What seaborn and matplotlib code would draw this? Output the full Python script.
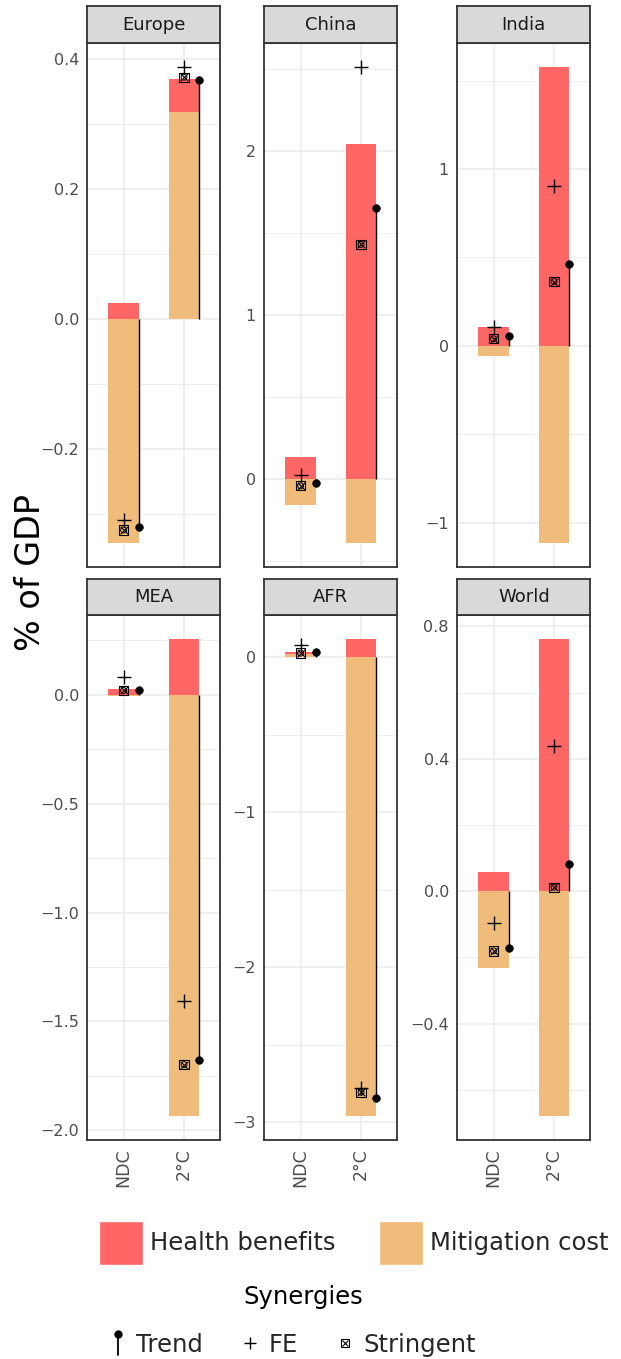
import numpy as np
import matplotlib.pyplot as plt
import seaborn as sns
from matplotlib.lines import Line2D
from matplotlib.patches import Patch
from matplotlib.legend_handler import HandlerBase, HandlerTuple
from matplotlib.ticker import MultipleLocator, FuncFormatter

# ------------------------------------------------------------------
# data (% of GDP), one value per region
# ------------------------------------------------------------------
regions = ['Europe', 'China', 'India', 'MEA', 'AFR', 'World']
scenarios = ['NDC', '2°C']

mitigation_ndc = [-0.345, -0.158, -0.055, -0.007, 0.020, -0.231]
mitigation_2c = [0.319, -0.389, -1.115, -1.935, -2.960, -0.679]
health_ndc = [0.025, 0.133, 0.109, 0.028, 0.016, 0.059]
health_2c = [0.050, 2.044, 1.579, 0.257, 0.120, 0.762]

trend_ndc = [-0.320, -0.025, 0.054, 0.021, 0.036, -0.172]
trend_2c = [0.367, 1.655, 0.464, -1.678, -2.840, 0.083]
fe_ndc = [-0.310, 0.028, 0.105, 0.080, 0.082, -0.096]
fe_2c = [0.388, 2.514, 0.905, -1.406, -2.780, 0.440]
stringent_ndc = [-0.325, -0.041, 0.040, 0.020, 0.028, -0.180]
stringent_2c = [0.372, 1.431, 0.364, -1.698, -2.806, 0.012]

# axis tick steps / label formats per facet
tick_step = [0.2, 1, 1, 0.5, 1, 0.4]
tick_fmt = ['{:.1f}', '{:.0f}', '{:.0f}', '{:.1f}', '{:.0f}', '{:.1f}']

RED = '#FF6666'
TAN = '#F0BC7C'
GRID = '#EBEBEB'
BORDER = '#333333'

# ------------------------------------------------------------------
# style
# ------------------------------------------------------------------
sns.set_theme(style='white')
plt.rcParams['font.family'] = ['DejaVu Sans']
plt.rcParams['axes.unicode_minus'] = True

W, H = 621, 1359
fig = plt.figure(figsize=(W / 100, H / 100), dpi=100)

col_left = [87.3, 264.3, 457.3]
panel_w = 133.0
row_strip_top = [6.0, 579.0]
row_top = [43.0, 615.0]
row_bottom = [566.7, 1140.0]

x_pos = np.arange(len(scenarios))


def fmt_factory(fmt):
    def f(v, pos):
        s = fmt.format(v + 0.0)
        if s.startswith('-') and float(s) == 0:
            s = s[1:]
        return s.replace('-', '\u2212')
    return FuncFormatter(f)


for i, region in enumerate(regions):
    r, c = divmod(i, 3)
    left = col_left[c] / W
    ax = fig.add_axes([left, 1 - row_bottom[r] / H, panel_w / W,
                       (row_bottom[r] - row_top[r]) / H])
    strip = fig.add_axes([left, 1 - row_top[r] / H, panel_w / W,
                          (row_top[r] - row_strip_top[r]) / H])

    mit = np.array([mitigation_ndc[i], mitigation_2c[i]])
    hb = np.array([health_ndc[i], health_2c[i]])
    # positive values stack: mitigation at the bottom, health on top
    hb_top = hb + np.clip(mit, 0, None)

    sns.barplot(x=x_pos, y=hb_top, native_scale=True, width=0.5, color=RED,
                saturation=1, errorbar=None, linewidth=0, ax=ax)
    sns.barplot(x=x_pos, y=mit, native_scale=True, width=0.5, color=TAN,
                saturation=1, errorbar=None, linewidth=0, ax=ax)

    trend = np.array([trend_ndc[i], trend_2c[i]])
    fe = np.array([fe_ndc[i], fe_2c[i]])
    strg = np.array([stringent_ndc[i], stringent_2c[i]])

    # Trend: lollipop on the right edge of the bar
    ax.vlines(x_pos + 0.25, 0, trend, color='black', lw=1.0, zorder=3)
    sns.scatterplot(x=x_pos + 0.25, y=trend, s=30, color='black',
                    edgecolor='black', linewidth=0.5, zorder=4, ax=ax)
    # FE
    sns.scatterplot(x=x_pos, y=fe, marker='+', s=110, color='black',
                    linewidth=1.0, zorder=4, ax=ax)
    # Stringent
    sns.scatterplot(x=x_pos, y=strg, marker='s', s=45, facecolor='none',
                    edgecolor='black', linewidth=0.8, zorder=4, ax=ax)
    sns.scatterplot(x=x_pos, y=strg, marker='x', s=30, color='black',
                    linewidth=0.8, zorder=4, ax=ax)
    sns.scatterplot(x=x_pos, y=strg, marker='o', s=18, facecolor='none',
                    edgecolor='black', linewidth=0.7, zorder=4, ax=ax)

    ax.set_xlim(-0.6, 1.6)
    ax.margins(y=0.05)
    ax.autoscale(axis='y')
    ax.set_xlabel('')
    ax.set_ylabel('')
    ax.set_axisbelow(True)

    ax.yaxis.set_major_locator(MultipleLocator(tick_step[i]))
    ax.yaxis.set_minor_locator(MultipleLocator(tick_step[i] / 2))
    ax.yaxis.set_major_formatter(fmt_factory(tick_fmt[i]))
    ax.set_xticks(x_pos)
    if r == 1:
        ax.set_xticklabels(scenarios, rotation=90)
        ax.tick_params(axis='x', length=4, width=1.1, color=BORDER,
                       labelsize=12.5, labelcolor='#4D4D4D', pad=2)
    else:
        ax.set_xticklabels([])
        ax.tick_params(axis='x', length=0)
    ax.tick_params(axis='y', which='major', length=4, width=1.1,
                   color=BORDER, labelsize=11.5, labelcolor='#4D4D4D', pad=2)
    ax.tick_params(axis='y', which='minor', length=0)

    ax.grid(which='major', axis='both', color=GRID, lw=1.1)
    ax.grid(which='minor', axis='y', color=GRID, lw=0.6)
    for sp in ax.spines.values():
        sp.set_color(BORDER)
        sp.set_linewidth(1.3)
        sp.set_visible(True)

    strip.set_facecolor('#D9D9D9')
    strip.set_xticks([])
    strip.set_yticks([])
    for sp in strip.spines.values():
        sp.set_color(BORDER)
        sp.set_linewidth(1.3)
        sp.set_visible(True)
    strip.text(0.5, 0.5, region, ha='center', va='center', fontsize=13,
               color='#1A1A1A', transform=strip.transAxes)

# y axis title
fig.text(30 / W, 1 - 573 / H, '% of GDP', rotation=90, ha='center',
         va='center', fontsize=24, color='black')


# ------------------------------------------------------------------
# legends
# ------------------------------------------------------------------
class PinHandler(HandlerBase):
    def create_artists(self, legend, orig_handle, xdescent, ydescent,
                       width, height, fontsize, trans):
        cx = width / 2 - xdescent
        y0 = -ydescent - 0.2 * height
        y1 = height - ydescent + 0.05 * height
        line = Line2D([cx, cx], [y0, y1], color='black', lw=1.3,
                      transform=trans)
        dot = Line2D([cx], [y1], marker='o', ms=5, color='black',
                     linestyle='none', transform=trans)
        return [line, dot]


pin = Line2D([], [], color='black')
fig.legend([Patch(facecolor=RED), Patch(facecolor=TAN)],
           ['Health benefits', 'Mitigation cost'],
           loc='center left', bbox_to_anchor=(99 / W, 1 - 1243 / H),
           ncol=2, frameon=False, fontsize=17.5, handlelength=1.8,
           handleheight=2.45, handletextpad=0.3, columnspacing=1.8,
           borderpad=0, borderaxespad=0)

fig.text(303 / W, 1 - 1297 / H, 'Synergies', ha='center', va='center',
         fontsize=17.5, color='black')

fe_h = Line2D([], [], marker='+', ms=9, mew=1.0, color='black', linestyle='none')
sq_h = Line2D([], [], marker='s', ms=6, mfc='none', mec='black', mew=0.8,
              linestyle='none')
x_h = Line2D([], [], marker='x', ms=5, mew=0.8, color='black', linestyle='none')
fig.legend([pin, fe_h, (sq_h, x_h)], ['Trend', 'FE', 'Stringent'],
           handler_map={pin: PinHandler(), tuple: HandlerTuple(ndivide=1)},
           loc='center left', bbox_to_anchor=(107 / W, 1 - 1345 / H),
           ncol=3, frameon=False, fontsize=17.5, handlelength=0.9,
           handletextpad=0.3, columnspacing=1.5, borderpad=0,
           borderaxespad=0)

fig.savefig('out.png', dpi=100)
